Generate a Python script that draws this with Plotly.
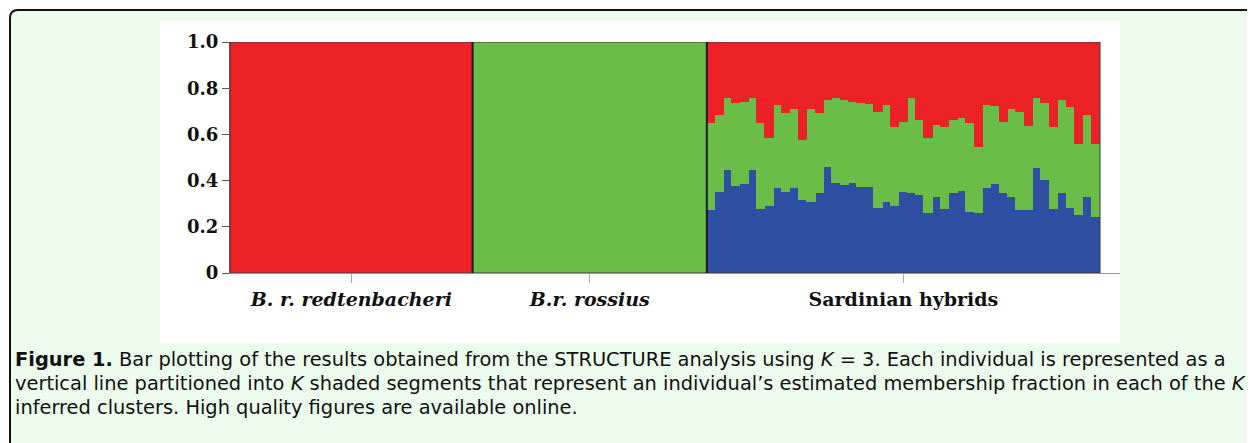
import plotly.graph_objects as go

# ---------------- data ----------------
group_names = ["B. r. redtenbacheri", "B.r. rossius", "Sardinian hybrids"]
group_ticktext = ["<b><i>B. r. redtenbacheri</i></b>", "<b><i>B.r. rossius</i></b>", "<b>Sardinian hybrids</b>"]

# pure individuals (all membership in one cluster)
redt_red = [1.0] * 29
redt_green = [0.0] * 29
redt_blue = [0.0] * 29

ross_red = [0.0] * 28
ross_green = [1.0] * 28
ross_blue = [0.0] * 28

# Sardinian hybrids, membership fractions per individual (K = 3)
hyb_blue = [0.273, 0.352, 0.446, 0.377, 0.386, 0.446, 0.275, 0.291, 0.367, 0.352,
            0.367, 0.316, 0.309, 0.345, 0.460, 0.391, 0.381, 0.389, 0.374, 0.371,
            0.281, 0.309, 0.288, 0.352, 0.345, 0.338, 0.259, 0.331, 0.276, 0.345,
            0.357, 0.262, 0.259, 0.367, 0.386, 0.348, 0.328, 0.273, 0.273, 0.453,
            0.403, 0.276, 0.348, 0.281, 0.252, 0.331, 0.244]
hyb_green = [0.375, 0.331, 0.310, 0.360, 0.355, 0.310, 0.373, 0.292, 0.360, 0.339,
             0.345, 0.260, 0.399, 0.346, 0.288, 0.365, 0.367, 0.352, 0.363, 0.360,
             0.417, 0.418, 0.342, 0.303, 0.411, 0.324, 0.324, 0.309, 0.357, 0.317,
             0.315, 0.386, 0.288, 0.360, 0.336, 0.307, 0.384, 0.425, 0.363, 0.303,
             0.331, 0.357, 0.400, 0.436, 0.307, 0.352, 0.315]
hyb_red = [0.352, 0.317, 0.244, 0.263, 0.259, 0.244, 0.352, 0.417, 0.273, 0.309,
           0.288, 0.424, 0.292, 0.309, 0.252, 0.244, 0.252, 0.259, 0.263, 0.269,
           0.302, 0.273, 0.370, 0.345, 0.244, 0.338, 0.417, 0.360, 0.367, 0.338,
           0.328, 0.352, 0.453, 0.273, 0.278, 0.345, 0.288, 0.302, 0.364, 0.244,
           0.266, 0.367, 0.252, 0.283, 0.441, 0.317, 0.441]

ytick_vals = [0, 0.2, 0.4, 0.6, 0.8, 1.0]
ytick_text = ["0", "0.2", "0.4", "0.6", "0.8", "1.0"]

caption_lines = [
    "<b>Figure 1.</b> Bar plotting of the results obtained from the STRUCTURE analysis using <i>K</i> = 3. Each individual is represented as a",
    "vertical line partitioned into <i>K</i> shaded segments that represent an individual\u2019s estimated membership fraction in each of the <i>K</i>",
    "inferred clusters. High quality figures are available online.",
]

# ---------------- styling / layout ----------------
RED = "#EC2227"
GREEN = "#6ABD46"
BLUE = "#2F4FA2"

OFF = 8                     # default page margin of the html body
W, H = 1255 - OFF, 443 - OFF
# plot area in page pixels
PL, PR, PT, PB = 230, 1120, 42, 273
L, R, T, B = PL - OFF, PR - OFF, PT - OFF, PB - OFF
pw, ph = R - L, B - T


def fx(px):                 # page pixel -> paper x
    return (px - OFF - L) / pw


def fy(py):                 # page pixel -> paper y
    return (B - (py - OFF)) / ph


red = redt_red + ross_red + hyb_red
green = redt_green + ross_green + hyb_green
blue = redt_blue + ross_blue + hyb_blue
sizes = [len(redt_red), len(ross_red), len(hyb_red)]
n = len(red)
x = list(range(n))

starts = [0, sizes[0], sizes[0] + sizes[1]]
centers = [s + (k - 1) / 2 for s, k in zip(starts, sizes)]

fig = go.Figure()
for vals, col in [(blue, BLUE), (green, GREEN), (red, RED)]:
    fig.add_trace(go.Bar(x=x, y=vals, width=1.0, marker=dict(color=col, line=dict(width=1, color=col)),
                         showlegend=False, hoverinfo="skip"))

shapes = []
# outer light-green box with rounded top-left corner
rr = 8
path = (f"M {fx(10)},{fy(480)} L {fx(10)},{fy(10 + rr)} Q {fx(10)},{fy(10)} {fx(10 + rr)},{fy(10)} "
        f"L {fx(1300)},{fy(10)} L {fx(1300)},{fy(480)} Z")
shapes.append(dict(type="path", xref="paper", yref="paper", path=path,
                   fillcolor="#EBFCEC", line=dict(color="#111111", width=2), layer="below"))
# white figure panel
shapes.append(dict(type="rect", xref="paper", yref="paper", x0=fx(160), x1=fx(1120), y0=fy(343), y1=fy(21),
                   fillcolor="white", line=dict(width=0), layer="below"))
# frame around the bars and population separators
shapes.append(dict(type="rect", xref="x", yref="y", x0=-0.5, x1=n - 0.5, y0=0, y1=1,
                   line=dict(color="#3a3a3a", width=1), layer="above"))
for s in starts[1:]:
    shapes.append(dict(type="line", xref="x", yref="y", x0=s - 0.5, x1=s - 0.5, y0=0, y1=1,
                       line=dict(color="#1a1a1a", width=2), layer="above"))

annotations = []
for i, line in enumerate(caption_lines):
    annotations.append(dict(text=line, xref="paper", yref="paper", x=fx(13), y=fy(359 + 24 * i),
                            xanchor="left", yanchor="middle", showarrow=False, align="left",
                            font=dict(family="DejaVu Sans, sans-serif", size=19.4, color="#111111")))

fig.update_layout(
    width=W, height=H, autosize=False,
    margin=dict(l=L, r=W - R, t=T, b=H - B, pad=0),
    paper_bgcolor="white", plot_bgcolor="rgba(0,0,0,0)",
    barmode="stack", bargap=0, bargroupgap=0,
    shapes=shapes, annotations=annotations,
    xaxis=dict(range=[-0.5, n - 0.5 + 20 / (870 / n)], tickvals=centers, ticktext=group_ticktext,
               ticks="outside", ticklen=9, tickcolor="#aaaaaa", tickwidth=1,
               showline=True, linecolor="#999999", linewidth=1, showgrid=False, zeroline=False,
               tickfont=dict(family="DejaVu Serif, serif", size=19, color="#111111"), fixedrange=True),
    yaxis=dict(range=[0, 1], tickvals=ytick_vals, ticktext=ytick_text,
               ticks="outside", ticklen=7, tickcolor="#555555", tickwidth=1,
               showline=True, linecolor="#555555", linewidth=1, showgrid=False, zeroline=False,
               tickfont=dict(family="DejaVu Serif, serif", size=18, color="#111111", weight="bold"),
               fixedrange=True),
)

fig.write_html("out.html")
